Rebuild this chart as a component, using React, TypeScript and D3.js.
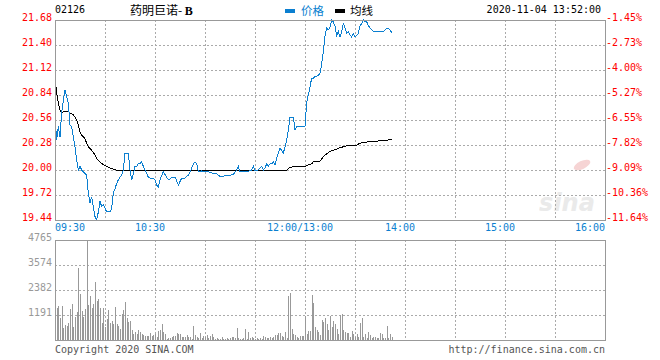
import React from "react";
import * as d3 from "d3";

const W = 660;
const H = 360;

const code = "02126";
const stockName = "药明巨诺- ";
const stockClass = "B";
const stamp = "2020-11-04 13:52:00";
const prevClose = 22.0;

// price per minute, 09:30 .. 12:00/13:00 .. 13:52
const prices = [
  20.60, 20.34, 20.49, 20.37, 20.64, 20.78, 20.90, 20.82, 20.75, 20.50,
  20.49, 20.37, 20.26, 20.11, 20.00, 20.04, 20.00, 19.98, 19.96, 19.94,
  19.74, 19.63, 19.70, 19.59, 19.48, 19.44, 19.53, 19.65, 19.59, 19.61,
  19.57, 19.53, 19.53, 19.53, 19.57, 19.74, 19.79, 19.85, 19.89, 19.92,
  19.94, 20.00, 20.19, 20.19, 20.19, 20.00, 19.89, 19.96, 20.04, 20.04,
  20.07, 20.07, 20.09, 20.04, 20.00, 19.96, 19.92, 19.91, 19.91, 19.91,
  19.89, 19.83, 19.81, 19.89, 19.94, 19.98, 19.95, 19.92, 19.89, 19.90,
  19.92, 19.92, 19.92, 19.88, 19.83, 19.87, 19.91, 19.91, 19.91, 19.93,
  19.94, 19.98, 20.02, 20.07, 20.09, 20.07, 19.98, 19.98, 19.99, 19.98,
  19.98, 19.98, 19.98, 19.97, 19.97, 19.96, 19.96, 19.96, 19.94, 19.93,
  19.93, 19.93, 19.94, 19.94, 19.94, 19.94, 19.95, 19.95, 19.98, 20.00,
  20.04, 19.98, 19.98, 19.98, 19.98, 19.98, 19.98, 20.00, 20.00, 20.04,
  19.99, 19.99, 20.00, 20.02, 20.04, 20.00, 20.02, 20.07, 20.04, 20.07,
  20.07, 20.09, 20.06, 20.13, 20.19, 20.24, 20.22, 20.19, 20.26, 20.33,
  20.45, 20.59, 20.59, 20.59, 20.45, 20.49, 20.49, 20.49, 20.49, 20.49,
  20.49,
  20.76, 20.84, 20.93, 21.03, 21.03, 21.05, 21.05, 21.06, 21.08, 21.19,
  21.33, 21.50, 21.59, 21.57, 21.60, 21.68, 21.66, 21.61, 21.51, 21.55,
  21.49, 21.55, 21.64, 21.59, 21.53, 21.55, 21.51, 21.49, 21.53, 21.49,
  21.51, 21.53, 21.61, 21.64, 21.68, 21.66, 21.66, 21.62, 21.59, 21.57,
  21.55, 21.55, 21.55, 21.55, 21.55, 21.55, 21.55, 21.57, 21.59, 21.59,
  21.57, 21.54,
];

// average line (均线), read at these minutes
const avgMinutes = [
  0, 1, 2, 3, 4, 6, 8, 9, 11, 13, 14, 15, 16, 18, 19, 20, 22, 24, 25, 27,
  29, 32, 35, 38, 139, 140, 143, 150, 151, 154, 155, 159, 161, 163, 165,
  167, 171, 173, 175, 180, 183, 185, 191, 197, 202,
];
const avgValues = [
  21.03, 20.86, 20.75, 20.67, 20.64, 20.66, 20.66, 20.64, 20.62, 20.56,
  20.50, 20.43, 20.39, 20.35, 20.30, 20.26, 20.22, 20.17, 20.13, 20.09,
  20.06, 20.03, 20.01, 19.99, 19.99, 20.02, 20.04, 20.04, 20.05, 20.07,
  20.09, 20.10, 20.15, 20.18, 20.21, 20.22, 20.25, 20.26, 20.27, 20.27,
  20.30, 20.31, 20.32, 20.33, 20.34,
];

// volume per minute
const volumes = [
  1300, 1540, 1620, 1064, 1620, 588, 715, 683, 826, 1477, 1715,
  635, 1112, 1350, 3446, 2176, 1382, 1112, 1477, 4717, 1667,
  2096, 1540, 1715, 2779, 1858, 1953, 1540, 826, 1540, 635,
  1000, 1429, 826, 905, 746, 1588, 746, 683, 524, 1223,
  1429, 1810, 1032, 842, 905, 476, 286, 365, 286, 476,
  365, 286, 238, 190, 206, 190, 318, 190, 238, 270,
  127, 445, 476, 746, 397, 270, 48, 79, 111, 159,
  206, 206, 318, 270, 286, 127, 159, 127, 238, 159,
  127, 48, 667, 238, 159, 111, 318, 111, 190, 127,
  238, 111, 190, 270, 127, 48, 79, 48, 48, 127, 48,
  48, 111, 48, 111, 159, 159, 79, 588, 79, 48,
  48, 79, 524, 48, 397, 79, 159, 79, 48, 111,
  48, 79, 48, 206, 159, 111, 111, 159, 111, 159,
  238, 238, 349, 349, 190, 159, 397, 79, 2112, 2255,
  524, 286, 238, 159, 79, 190, 190, 190, 1143, 270,
  429, 429, 2144, 1779, 635, 476, 397, 238, 953, 842,
  1032, 746, 476, 1143, 603, 905, 746, 524, 270, 1191,
  1239, 476, 365, 318, 318, 159, 429, 270, 159, 286,
  127, 794, 1032, 159, 270, 79, 365, 238, 111, 127,
  127, 79, 79, 318, 270, 79, 79, 683, 79, 270, 159,
];

const priceTicks = [21.68, 21.4, 21.12, 20.84, 20.56, 20.28, 20.0, 19.72, 19.44];
const volumeTicks = [4765, 3574, 2382, 1191];
const timeLabels = ["09:30", "10:30", "12:00/13:00", "14:00", "15:00", "16:00"];
const timeLabelMinutes = [0, 60, 150, 210, 270, 330];
const sessionMinutes = 330;

const BLUE = "#0b7fd0";
const GRID = "#aaaaaa";
const BORDER = "#999999";
const MONO = "'DejaVu Sans Mono', monospace";
const CJK = "'Noto Sans CJK SC', sans-serif";

const px = (v: number) => Math.round(v) + 0.5;

export default function App() {
  const x = d3.scaleLinear().domain([0, sessionMinutes]).range([55, 605]);
  const yP = d3.scaleLinear().domain([19.44, 21.68]).range([220, 20]);
  const yV = d3.scaleLinear().domain([0, 4765]).range([340, 240]);

  const gridMinutes = d3.range(30, sessionMinutes, 30);

  const priceLine = d3
    .line<number>()
    .x((_, i) => x(i))
    .y((d) => yP(d))(prices);

  const avgLine = d3
    .line<number>()
    .x((_, i) => x(avgMinutes[i]))
    .y((d) => yP(d))(avgValues);

  const pct = (v: number) => ((v / prevClose - 1) * 100).toFixed(2) + "%";

  return (
    <svg
      width={W}
      height={H}
      style={{ position: "absolute", left: 0, top: 0, background: "#fff" }}
      fontFamily={MONO}
    >
      {/* header */}
      <text x={55} y={12.5} fontSize={10} fill="#000">{code}</text>
      <text x={130} y={14.5} fontSize={12} fill="#000">
        <tspan fontFamily={CJK}>{stockName}</tspan>
        <tspan fontFamily="'Liberation Serif', serif" fontWeight="bold">{stockClass}</tspan>
      </text>
      <rect x={285} y={9} width={10} height={4} fill={BLUE} />
      <text x={301} y={15} fontSize={11.5} fontFamily={CJK} fill={BLUE}>价格</text>
      <rect x={335} y={9} width={10} height={4} fill="#000" />
      <text x={350} y={15} fontSize={11.5} fontFamily={CJK} fill="#000">均线</text>
      <text x={601} y={12.5} fontSize={10} textAnchor="end" fill="#000">{stamp}</text>

      {/* watermark */}
      <g opacity={0.9}>
        <ellipse cx={582} cy={165} rx={9} ry={4} fill="#f6d0d0" transform="rotate(-25 582 165)" />
        <text x={567} y={211} fontSize={24} fontStyle="italic" fontWeight="bold"
          fontFamily="'DejaVu Sans', sans-serif" textAnchor="middle" fill="#e8e8e8">sina</text>
      </g>

      {/* price grid */}
      <g stroke={GRID} strokeDasharray="2,2" shapeRendering="crispEdges">
        {gridMinutes.map((m) => (
          <line key={"pv" + m} x1={px(x(m))} x2={px(x(m))} y1={20} y2={220} />
        ))}
        {priceTicks.slice(1, -1).map((t) => (
          <line key={"ph" + t} x1={55} x2={605} y1={px(yP(t))} y2={px(yP(t))} />
        ))}
        {gridMinutes.map((m) => (
          <line key={"vv" + m} x1={px(x(m))} x2={px(x(m))} y1={240} y2={340} />
        ))}
        {volumeTicks.slice(1).map((t) => (
          <line key={"vh" + t} x1={55} x2={605} y1={px(yV(t))} y2={px(yV(t))} />
        ))}
      </g>

      {/* volume bars */}
      <g stroke="#999" shapeRendering="crispEdges">
        {volumes.map((v, i) => (
          <line key={i} x1={px(x(i))} x2={px(x(i))} y1={yV(0)} y2={Math.round(yV(v))} />
        ))}
      </g>

      {/* lines */}
      <path d={avgLine ?? ""} fill="none" stroke="#000" strokeWidth={1} shapeRendering="crispEdges" />
      <path d={priceLine ?? ""} fill="none" stroke={BLUE} strokeWidth={1} shapeRendering="crispEdges" />

      {/* borders */}
      <g fill="none" stroke={BORDER} shapeRendering="crispEdges">
        <rect x={55.5} y={20.5} width={550} height={200} />
        <rect x={55.5} y={240.5} width={550} height={100} />
      </g>

      {/* price axis labels */}
      <g fontSize={10} fill="#ff0000">
        {priceTicks.map((t) => (
          <text key={"l" + t} x={52} y={Math.round(yP(t)) + 1} textAnchor="end">{t.toFixed(2)}</text>
        ))}
        {priceTicks.map((t) => (
          <text key={"r" + t} x={606} y={Math.round(yP(t)) + 1}>{pct(t)}</text>
        ))}
      </g>

      {/* volume labels */}
      <g fontSize={10} fill="#999">
        {volumeTicks.map((t) => (
          <text key={"v" + t} x={52} y={Math.round(yV(t)) + 1} textAnchor="end">{t}</text>
        ))}
      </g>

      {/* time labels */}
      <g fontSize={10} fill={BLUE}>
        {timeLabels.map((s, i) => {
          const m = timeLabelMinutes[i];
          const first = i === 0;
          const last = i === timeLabels.length - 1;
          return (
            <text
              key={s}
              x={first ? x(m) : last ? x(m) : x(m) - 5}
              y={231}
              textAnchor={first ? "start" : last ? "end" : "middle"}
            >
              {s}
            </text>
          );
        })}
      </g>

      {/* footer */}
      <text x={55} y={353} fontSize={10} fill="#555">Copyright 2020 SINA.COM</text>
      <text x={605} y={353} fontSize={10} fill="#555" textAnchor="end">http://finance.sina.com.cn</text>
    </svg>
  );
}
